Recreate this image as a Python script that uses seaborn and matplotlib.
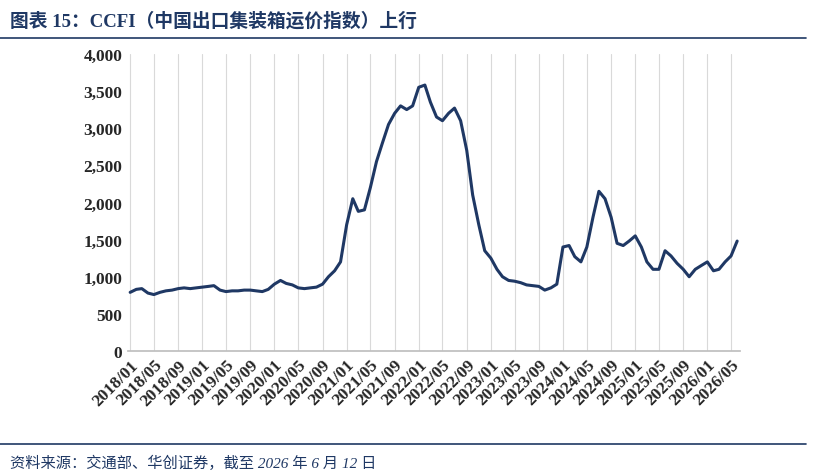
import matplotlib
matplotlib.use("Agg")
import matplotlib.pyplot as plt
import seaborn as sns
import pandas as pd
import numpy as np

months = pd.date_range("2018-01-01", "2026-06-01", freq="MS")
ccfi = [790, 830, 840, 780, 760, 790, 810, 820, 840, 850, 840, 850,
        860, 870, 880, 820, 800, 810, 810, 820, 820, 810, 800, 830,
        900, 950, 910, 890, 850, 840, 850, 860, 900, 1000, 1080, 1200,
        1700, 2050, 1880, 1900, 2200, 2550, 2800, 3050, 3200, 3300, 3250, 3300,
        3550, 3580, 3350, 3150, 3100, 3200, 3270, 3100, 2700, 2100, 1700, 1350,
        1250, 1100, 1000, 950, 940, 920, 890, 880, 870, 820, 850, 900,
        1400, 1420, 1270, 1200, 1400, 1800, 2150, 2050, 1800, 1450, 1420, 1480,
        1550, 1400, 1200, 1100, 1100, 1350, 1280, 1180, 1100, 1000, 1100, 1150,
        1200, 1080, 1100, 1200, 1280, 1480]
tick_labels = [f"{y}/{m:02d}" for y in range(2018, 2027) for m in (1, 5, 9)][:26]

navy = "#1F3864"
sns.set_theme(style="white")
plt.rcParams['font.family'] = ['Liberation Serif', 'Noto Sans CJK SC', 'DejaVu Sans']

df = pd.DataFrame({"date": months, "ccfi": ccfi})
fig = plt.figure(figsize=(8.14, 4.77), dpi=100)
ax = fig.add_axes([0.157, 0.262, 0.752, 0.623])
sns.lineplot(data=df, x="date", y="ccfi", ax=ax, color=navy, linewidth=2.2)
ticks = pd.to_datetime([t.replace("/", "-") + "-01" for t in tick_labels])
ax.set_xticks(ticks)
ax.set_xticklabels(tick_labels, rotation=45, ha="right", rotation_mode="anchor",
                   fontsize=12.5, fontweight="bold", color="#262626")
ax.set_xlim(pd.Timestamp("2017-12-20"), pd.Timestamp("2026-06-15"))
ax.set_ylim(0, 4000)
ax.set_yticks(range(0, 4001, 500))
ax.set_yticklabels([f"{v:,}" for v in range(0, 4001, 500)], fontsize=12.5,
                   fontweight="bold", color="#262626")
ax.grid(axis="x", color="#D9D9D9", linewidth=0.8)
ax.set_xlabel("")
ax.set_ylabel("")
for s in ["top", "right", "left"]:
    ax.spines[s].set_visible(False)
ax.spines["bottom"].set_color("#BFBFBF")
ax.tick_params(axis="both", length=0, pad=4)

fig.text(0.012, 0.955, "图表 15：CCFI（中国出口集装箱运价指数）上行", fontsize=13.5,
         fontweight="bold", color=navy, va="center")
fig.add_artist(plt.Line2D([0.0, 0.99], [0.918, 0.918], color=navy, linewidth=1.2))
fig.add_artist(plt.Line2D([0.0, 0.99], [0.068, 0.068], color=navy, linewidth=1.2))
fig.text(0.012, 0.028, "资料来源：交通部、华创证券，截至 2026 年 6 月 12 日", fontsize=11,
         style="italic", color=navy, va="center")
fig.savefig("out.png", dpi=100)
